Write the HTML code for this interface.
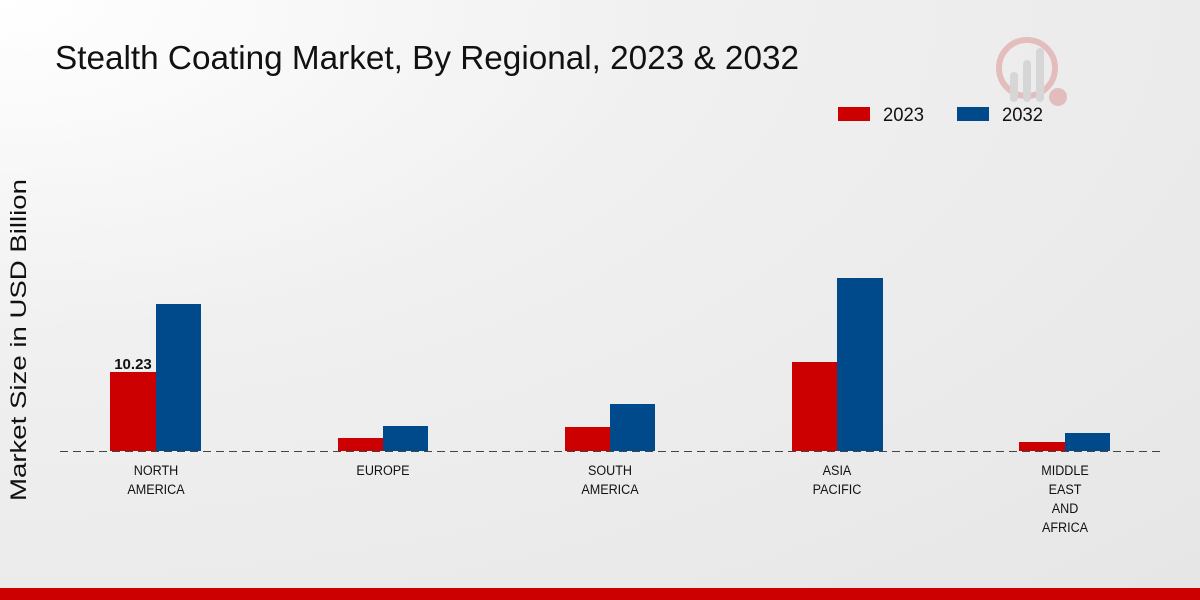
<!DOCTYPE html>
<html><head><meta charset="utf-8"><style>
html,body{margin:0;padding:0;}
body{width:1200px;height:600px;overflow:hidden;background:radial-gradient(ellipse at 0% 0%,#ffffff 0%,#f0f0f0 40%,#e6e6e6 100%);font-family:"Liberation Sans",sans-serif;}
</style></head><body>
<svg width="1200" height="600" xmlns="http://www.w3.org/2000/svg" style="position:absolute;left:0;top:0">
<text x="55" y="69" font-size="33" fill="#111" textLength="744" lengthAdjust="spacingAndGlyphs" font-family="Liberation Sans, sans-serif">Stealth Coating Market, By Regional, 2023 &amp; 2032</text>
<g opacity="0.25">
<circle cx="1027" cy="68" r="28" fill="none" stroke="#c33" stroke-width="6"/>
<rect x="1010" y="72" width="8" height="30" rx="4" fill="#999"/>
<rect x="1023" y="60" width="8" height="42" rx="4" fill="#999"/>
<rect x="1036" y="48" width="8" height="54" rx="4" fill="#999"/>
<circle cx="1058" cy="97" r="9" fill="#c33"/>
</g>
<rect x="838" y="107" width="32" height="14" fill="#cc0000"/>
<text x="883" y="121" font-size="19" fill="#111" textLength="41" lengthAdjust="spacingAndGlyphs">2023</text>
<rect x="957" y="107" width="32" height="14" fill="#004a8c"/>
<text x="1002" y="121" font-size="19" fill="#111" textLength="41" lengthAdjust="spacingAndGlyphs">2032</text>
<text transform="translate(26,340) rotate(-90)" text-anchor="middle" font-size="22" fill="#111" textLength="322" lengthAdjust="spacingAndGlyphs">Market Size in USD Billion</text>
<g fill="#cc0000">
<rect x="110" y="372" width="46" height="79"/>
<rect x="338" y="438" width="45" height="13"/>
<rect x="565" y="427" width="45" height="24"/>
<rect x="792" y="362" width="45" height="89"/>
<rect x="1019" y="442" width="46" height="9"/>
</g>
<g fill="#004a8c">
<rect x="156" y="304" width="45" height="147"/>
<rect x="383" y="426" width="45" height="25"/>
<rect x="610" y="404" width="45" height="47"/>
<rect x="837" y="278" width="46" height="173"/>
<rect x="1065" y="433" width="45" height="18"/>
</g>
<line x1="60" y1="451.5" x2="1160" y2="451.5" stroke="#444" stroke-dasharray="8,5" stroke-width="1"/>
<text x="133" y="369" text-anchor="middle" font-size="15" font-weight="bold" fill="#111">10.23</text>
<g font-size="14" fill="#111" text-anchor="middle">
<g transform="translate(156,0) scale(0.9,1)"><text x="0" y="475">NORTH</text><text x="0" y="494">AMERICA</text></g>
<g transform="translate(383,0) scale(0.9,1)"><text x="0" y="475">EUROPE</text></g>
<g transform="translate(610,0) scale(0.9,1)"><text x="0" y="475">SOUTH</text><text x="0" y="494">AMERICA</text></g>
<g transform="translate(837,0) scale(0.9,1)"><text x="0" y="475">ASIA</text><text x="0" y="494">PACIFIC</text></g>
<g transform="translate(1065,0) scale(0.9,1)"><text x="0" y="475">MIDDLE</text><text x="0" y="494">EAST</text><text x="0" y="513">AND</text><text x="0" y="532">AFRICA</text></g>
</g>
<rect x="0" y="588" width="1200" height="12" fill="#cc0000"/>
</svg>
</body></html>
